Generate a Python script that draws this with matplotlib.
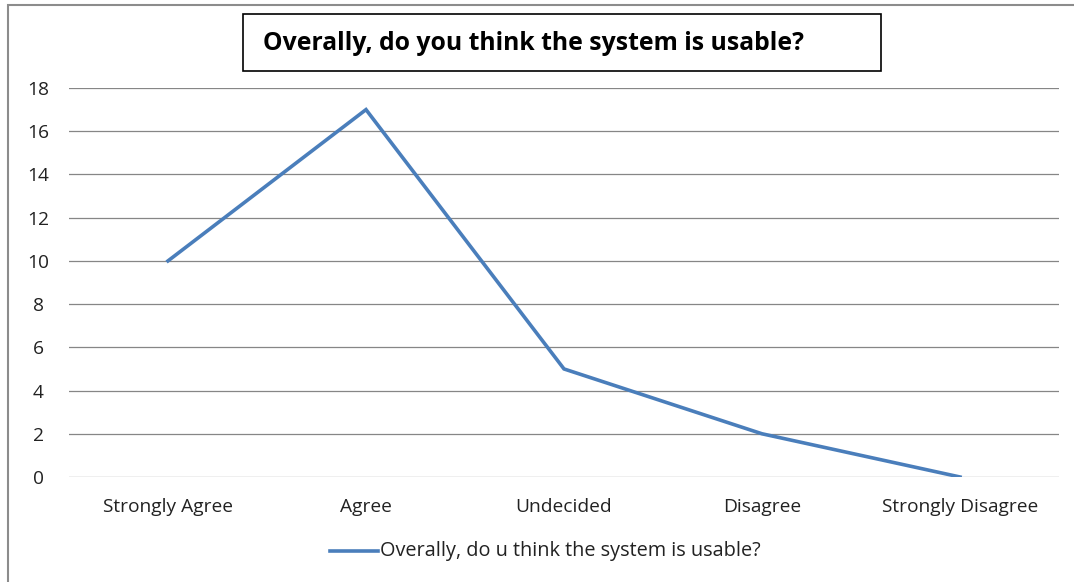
import matplotlib.pyplot as plt
from matplotlib.patches import Rectangle
from matplotlib.lines import Line2D

categories = ["Strongly Agree", "Agree", "Undecided", "Disagree", "Strongly Disagree"]
responses = [10, 17, 5, 2, 0]
y_ticks = [0, 2, 4, 6, 8, 10, 12, 14, 16, 18]

title = "Overally, do you think the system is usable?"
series_name = "Overally, do u think the system is usable?"

plt.rcParams['font.family'] = ['Open Sans', 'DejaVu Sans']

fig = plt.figure(figsize=(10.74, 5.82), dpi=100)
W, H = 1074, 582

# outer chart frame
fig.patches.append(Rectangle((8 / W, -0.05), 1.2, (H - 5) / H + 0.05, transform=fig.transFigure,
                             fill=False, edgecolor='#8c8c8c', linewidth=1.5))

ax = fig.add_axes([69 / W, 105 / H, 990 / W, 389 / H])
x = list(range(len(categories)))
ax.plot(x, responses, color='#4A7EBB', linewidth=2.6, solid_joinstyle='miter')

ax.set_xlim(-0.5, len(categories) - 0.5)
ax.set_ylim(0, 18)
ax.set_yticks(y_ticks)
ax.set_xticks(x)
ax.set_xticklabels(categories)
ax.grid(axis='y', color='#868686', linewidth=0.9)
ax.set_axisbelow(True)
for s in ax.spines.values():
    s.set_visible(False)
ax.tick_params(length=0, labelsize=13.8, labelcolor='#222222')
ax.tick_params(axis='x', pad=15)
ax.tick_params(axis='y', pad=22)
for lbl in ax.get_yticklabels():
    lbl.set_horizontalalignment('center')

# title in a boxed frame
fig.patches.append(Rectangle((243 / W, 1 - 71 / H), 638 / W, 57 / H, transform=fig.transFigure,
                             fill=False, edgecolor='black', linewidth=1.2))
fig.text(263 / W, 1 - 43 / H, title, fontsize=17.8, fontweight='bold', va='center', ha='left')

# legend
fig.add_artist(Line2D([330 / W, 378 / W], [1 - 551 / H] * 2, transform=fig.transFigure,
                      color='#4A7EBB', linewidth=2.6))
fig.text(380 / W, 1 - 551 / H, series_name, fontsize=14.3, va='center', ha='left', color='#222222')

fig.savefig("out.png", dpi=100)
